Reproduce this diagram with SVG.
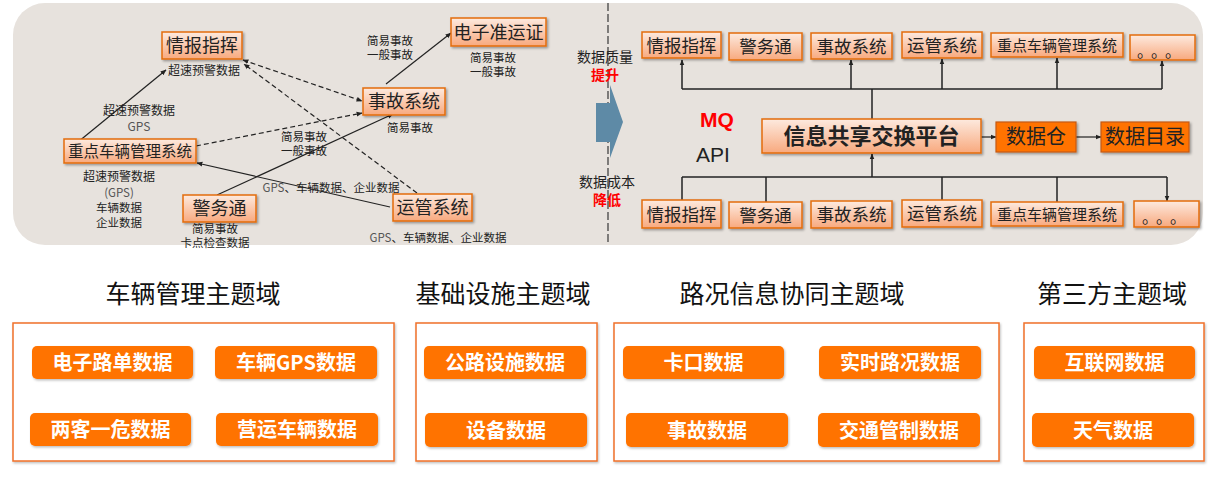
<svg xmlns="http://www.w3.org/2000/svg" width="1214" height="478" viewBox="0 0 1214 478">
<defs>
<style>
text{font-family:"Noto Sans CJK SC","Noto Sans",sans-serif;fill:#222}
.nb{fill:url(#peach);stroke:#e36c0a;stroke-width:1.5;filter:url(#sh)}
.nt{font-size:17.5px;text-anchor:middle}
.sm{font-size:15px;text-anchor:middle}
.lb{font-size:11.5px;text-anchor:middle;fill:#222}
.gr{fill:#555}
.ln{stroke:#222;stroke-width:1.2;fill:none}
.ds{stroke:#222;stroke-width:1.2;fill:none;stroke-dasharray:5 3}
.rl{stroke:#222;stroke-width:1.5;fill:none}
.fr{fill:#fff;stroke:#f0702a;stroke-width:1.5;filter:url(#sh2)}
.pill{fill:#ff7300;filter:url(#sh2)}
.pt{font-size:20px;font-weight:bold;fill:#fff;text-anchor:middle}
.ttl{font-size:25px;text-anchor:middle;fill:#111}
.red{fill:#ff0000;font-weight:bold}
.ob{fill:#ff7300;stroke:#c55a11;stroke-width:1.2;filter:url(#sh)}
.dots{font-size:16px;text-anchor:start;letter-spacing:6px}
</style>
<linearGradient id="peach" x1="0" y1="0" x2="0" y2="1">
<stop offset="0" stop-color="#fdeadf"/>
<stop offset="1" stop-color="#f8a97e"/>
</linearGradient>
<filter id="sh" x="-10%" y="-20%" width="125%" height="150%">
<feDropShadow dx="1.5" dy="1.5" stdDeviation="1" flood-color="#000" flood-opacity="0.35"/>
</filter>
<filter id="sh2" x="-10%" y="-20%" width="125%" height="150%">
<feDropShadow dx="1" dy="1.5" stdDeviation="1" flood-color="#000" flood-opacity="0.25"/>
</filter>
<marker id="ah" viewBox="0 0 10 10" refX="9" refY="5" markerWidth="6" markerHeight="6" orient="auto-start-reverse" markerUnits="userSpaceOnUse">
<path d="M0,1 L10,5 L0,9 z" fill="#222"/>
</marker>
</defs>

<!-- top panel -->
<rect x="13" y="3" width="1190" height="242" rx="32" fill="#e7e2dd"/>
<line x1="608" y1="3" x2="608" y2="245" stroke="#444" stroke-width="1.3" stroke-dasharray="8 3"/>
<path d="M596,103 L610,103 L610,85 L623,122 L610,158 L610,142 L596,142 Z" fill="#5e8aa6"/>

<!-- connectors -->
<g id="connectors">
<line class="ln" x1="78" y1="142" x2="166" y2="70" marker-end="url(#ah)"/>
<line class="ds" x1="243" y1="60" x2="362" y2="101" marker-start="url(#ah)" marker-end="url(#ah)"/>
<line class="ds" x1="417" y1="193" x2="244" y2="64" marker-end="url(#ah)"/>
<line class="ds" x1="196" y1="146" x2="362" y2="113" marker-end="url(#ah)"/>
<line class="ln" x1="217" y1="195" x2="393" y2="114" marker-end="url(#ah)"/>
<line class="ln" x1="390" y1="207" x2="197" y2="163" marker-end="url(#ah)"/>
<line class="ln" x1="386" y1="84" x2="451" y2="33" marker-end="url(#ah)"/>

<polyline class="rl" points="682,89 1162,89"/>
<line class="rl" x1="682" y1="89" x2="682" y2="60" marker-end="url(#ah)"/>
<line class="rl" x1="851" y1="89" x2="851" y2="60" marker-end="url(#ah)"/>
<line class="rl" x1="942" y1="89" x2="942" y2="59" marker-end="url(#ah)"/>
<line class="rl" x1="1057" y1="89" x2="1057" y2="58" marker-end="url(#ah)"/>
<line class="rl" x1="1162" y1="89" x2="1162" y2="61" marker-end="url(#ah)"/>
<line class="rl" x1="872" y1="119" x2="872" y2="89"/>

<polyline class="rl" points="682,177 1167,177"/>
<line class="rl" x1="682" y1="177" x2="682" y2="200"/>
<line class="rl" x1="766" y1="177" x2="766" y2="202"/>
<line class="rl" x1="942" y1="177" x2="942" y2="200"/>
<line class="rl" x1="1057" y1="177" x2="1057" y2="202"/>
<line class="rl" x1="1167" y1="177" x2="1167" y2="201" marker-end="url(#ah)"/>
<line class="rl" x1="872" y1="177" x2="872" y2="154" marker-end="url(#ah)"/>

<line class="ln" x1="981" y1="137" x2="996" y2="137" marker-end="url(#ah)"/>
<line class="ln" x1="1076" y1="137" x2="1101" y2="137" marker-end="url(#ah)"/>
</g>

<!-- left nodes -->
<g id="n-qbzh"><rect class="nb" x="162" y="32" width="80" height="27"/><text class="nt" x="202" y="52" style="font-size:18px">情报指挥</text></g>
<g id="n-zdcl"><rect class="nb" x="64" y="139" width="132" height="24"/><text class="sm" x="130" y="157" style="font-size:15.5px">重点车辆管理系统</text></g>
<g id="n-jwt"><rect class="nb" x="183" y="195" width="73" height="27"/><text class="nt" x="219.500" y="215" style="font-size:18px">警务通</text></g>
<g id="n-dzzyz"><rect class="nb" x="451" y="18" width="95" height="28"/><text class="nt" x="498.500" y="38.500" style="font-size:18px">电子准运证</text></g>
<g id="n-sgxt"><rect class="nb" x="363" y="88" width="82" height="27"/><text class="nt" x="404" y="108" style="font-size:18px">事故系统</text></g>
<g id="n-ygxt"><rect class="nb" x="393" y="194" width="79" height="27"/><text class="nt" x="432.500" y="214" style="font-size:18px">运管系统</text></g>

<!-- left labels -->
<g id="labels-left">
<text class="lb" x="204" y="75" style="font-size:12px">超速预警数据</text>
<text class="lb" x="139" y="115" style="font-size:12px">超速预警数据</text>
<text class="lb gr" x="139" y="131" style="font-size:12px">GPS</text>
<text class="lb" x="119" y="181" style="font-size:12px">超速预警数据</text>
<text class="lb" x="119" y="197"><tspan class="gr">(GPS)</tspan></text>
<text class="lb" x="119" y="212">车辆数据</text>
<text class="lb" x="119" y="227">企业数据</text>
<text class="lb" x="215" y="233">简易事故</text>
<text class="lb" x="215" y="247">卡点检查数据</text>
<text class="lb" x="390" y="45">简易事故</text>
<text class="lb" x="390" y="59">一般事故</text>
<text class="lb" x="493" y="62">简易事故</text>
<text class="lb" x="493" y="76">一般事故</text>
<text class="lb" x="410" y="132">简易事故</text>
<text class="lb" x="304" y="141">简易事故</text>
<text class="lb" x="304" y="155">一般事故</text>
<text class="lb" x="331" y="192"><tspan class="gr">GPS</tspan>、车辆数据、企业数据</text>
<text class="lb" x="438" y="242"><tspan class="gr">GPS</tspan>、车辆数据、企业数据</text>
</g>

<!-- middle labels -->
<text x="605" y="62" font-size="14" text-anchor="middle">数据质量</text>
<text class="red" x="605" y="80" font-size="14" text-anchor="middle">提升</text>
<text x="607" y="187" font-size="14" text-anchor="middle">数据成本</text>
<text class="red" x="607" y="205" font-size="14" text-anchor="middle">降低</text>
<text class="red" x="717" y="127" font-size="21" text-anchor="middle" style="font-family:'Liberation Sans','Noto Sans',sans-serif">MQ</text>
<text x="713" y="162" font-size="21" text-anchor="middle" style="font-family:'Liberation Sans','Noto Sans',sans-serif">API</text>

<!-- right top row -->
<g id="t-qbzh"><rect class="nb" x="642" y="32" width="79" height="26"/><text class="nt" x="681.500" y="51.500">情报指挥</text></g>
<g id="t-jwt"><rect class="nb" x="729" y="33" width="73" height="27"/><text class="nt" x="765.500" y="53">警务通</text></g>
<g id="t-sgxt"><rect class="nb" x="811" y="33" width="81" height="26"/><text class="nt" x="851.500" y="52.500">事故系统</text></g>
<g id="t-ygxt"><rect class="nb" x="902" y="32" width="80" height="26"/><text class="nt" x="942" y="51.500">运管系统</text></g>
<g id="t-zdcl"><rect class="nb" x="991" y="33" width="132" height="24"/><text class="sm" x="1057" y="50.500">重点车辆管理系统</text></g>
<g id="t-more"><rect class="nb" x="1130" y="35" width="65" height="25"/><text class="dots" x="1137" y="57">。。。</text></g>

<!-- platform -->
<g id="platform"><rect class="nb" x="762" y="119" width="219" height="34"/><text x="871.500" y="144" font-size="22" font-weight="bold" text-anchor="middle" fill="#111">信息共享交换平台</text></g>
<g id="dwh"><rect class="ob" x="996" y="122" width="80" height="30"/><text x="1036" y="144" font-size="20" text-anchor="middle">数据仓</text></g>
<g id="catalog"><rect class="ob" x="1101" y="122" width="88" height="30"/><text x="1145" y="144" font-size="20" text-anchor="middle">数据目录</text></g>

<!-- right bottom row -->
<g id="b-qbzh"><rect class="nb" x="642" y="200" width="79" height="28"/><text class="nt" x="681.500" y="220.500">情报指挥</text></g>
<g id="b-jwt"><rect class="nb" x="729" y="202" width="73" height="26"/><text class="nt" x="765.500" y="221.500">警务通</text></g>
<g id="b-sgxt"><rect class="nb" x="811" y="201" width="81" height="27"/><text class="nt" x="851.500" y="221">事故系统</text></g>
<g id="b-ygxt"><rect class="nb" x="902" y="200" width="80" height="27"/><text class="nt" x="942" y="220">运管系统</text></g>
<g id="b-zdcl"><rect class="nb" x="991" y="202" width="132" height="24"/><text class="sm" x="1057" y="219.500">重点车辆管理系统</text></g>
<g id="b-more"><rect class="nb" x="1134" y="201" width="65" height="26"/><text class="dots" x="1142" y="223">。。。</text></g>

<!-- bottom domains -->
<g id="d-vehicle">
<text class="ttl" x="193" y="303">车辆管理主题域</text>
<rect class="fr" x="13" y="323" width="381" height="138"/>
<rect class="pill" x="32" y="346" width="161" height="33" rx="5"/><text class="pt" x="112.500" y="370">电子路单数据</text>
<rect class="pill" x="215" y="346" width="162" height="33" rx="5"/><text class="pt" x="296" y="370">车辆GPS数据</text>
<rect class="pill" x="30" y="413" width="161" height="33" rx="5"/><text class="pt" x="110.500" y="437">两客一危数据</text>
<rect class="pill" x="216" y="413" width="162" height="33" rx="5"/><text class="pt" x="297" y="437">营运车辆数据</text>
</g>
<g id="d-infra">
<text class="ttl" x="503" y="303">基础设施主题域</text>
<rect class="fr" x="416" y="323" width="181" height="138"/>
<rect class="pill" x="424" y="346" width="162" height="33" rx="5"/><text class="pt" x="505" y="370">公路设施数据</text>
<rect class="pill" x="425" y="413" width="162" height="34" rx="5"/><text class="pt" x="506" y="437.500">设备数据</text>
</g>
<g id="d-road">
<text class="ttl" x="792" y="303">路况信息协同主题域</text>
<rect class="fr" x="614" y="323" width="385" height="138"/>
<rect class="pill" x="623" y="346" width="161" height="33" rx="5"/><text class="pt" x="703.500" y="370">卡口数据</text>
<rect class="pill" x="819" y="346" width="162" height="33" rx="5"/><text class="pt" x="900" y="370">实时路况数据</text>
<rect class="pill" x="626" y="413" width="162" height="34" rx="5"/><text class="pt" x="707" y="437.500">事故数据</text>
<rect class="pill" x="818" y="413" width="162" height="34" rx="5"/><text class="pt" x="899" y="437.500">交通管制数据</text>
</g>
<g id="d-third">
<text class="ttl" x="1112" y="303">第三方主题域</text>
<rect class="fr" x="1024" y="323" width="180" height="138"/>
<rect class="pill" x="1034" y="346" width="161" height="33" rx="5"/><text class="pt" x="1114.500" y="370">互联网数据</text>
<rect class="pill" x="1032" y="413" width="162" height="34" rx="5"/><text class="pt" x="1113" y="437.500">天气数据</text>
</g>
</svg>
